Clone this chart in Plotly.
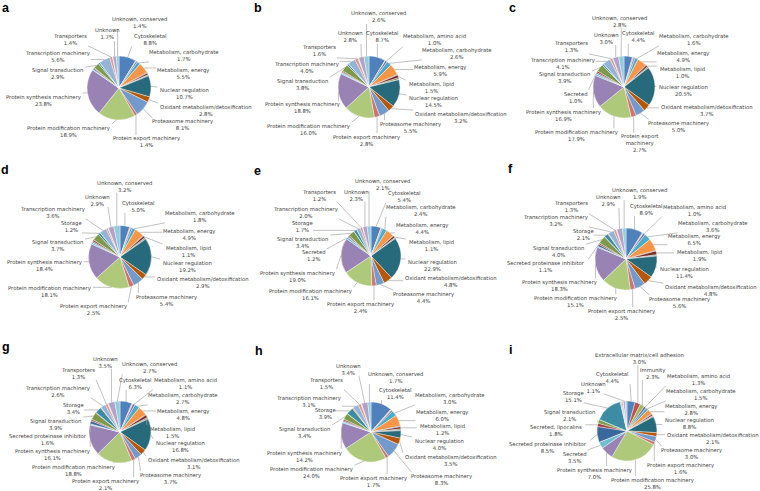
import math
import plotly.graph_objects as go

# ---------------- data ----------------
CATEGORIES = [
    "Cytoskeletal", "Extracellular matrix/cell adhesion", "Immunity",
    "Metabolism, amino acid", "Metabolism, carbohydrate", "Metabolism, energy",
    "Metabolism, intermediate", "Metabolism, lipid", "Metabolism, nucleotide",
    "Nuclear export", "Nuclear regulation", "Oxidant metabolism/detoxification",
    "Proteasome machinery", "Protein export machinery", "Protein modification machinery",
    "Protein synthesis machinery", "Secreted", "Secreted, mucins",
    "Secreted proteinase inhibitor", "Secreted, lipocalins", "Signal transduction",
    "Signaling, other", "Storage", "Transcription factor",
    "Transcription machinery", "Transporters", "Transposable element",
    "Unknown", "Unknown, conserved",
]

COLORS = [
    "#4F81BD", "#C0504D", "#9BBB59", "#8064A2", "#4BACC6", "#F79646",
    "#2C4D75", "#772C2A", "#5F7530", "#4D3B62", "#276A7C", "#B65708",
    "#729ACA", "#CD7371", "#AFC97A", "#9983B5", "#6FBDD1", "#F9AB6B",
    "#3A679C", "#A0403E", "#7D9A48", "#664E83", "#3C8DA3", "#D8802E",
    "#95B3D7", "#D99694", "#C3D69B", "#B3A2C7", "#93CDDD",
]

# percentages per panel, aligned with CATEGORIES
panel_a = [8.8, 0, 0.3, 0.7, 1.7, 5.5, 0.3, 0.9, 0.4, 0.2, 10.7, 2.8, 8.1, 1.4, 18.9, 23.8,
           0.5, 0, 0.6, 0.4, 2.9, 0, 0.8, 0, 5.6, 1.4, 0.2, 1.7, 1.4]
panel_b = [8.7, 0, 0.2, 1.0, 2.6, 5.9, 0.3, 1.5, 0.8, 0.2, 14.5, 3.2, 5.5, 2.8, 16.0, 18.8,
           0.7, 0, 0.5, 0.6, 3.8, 0, 0.9, 0, 4.0, 1.6, 0.5, 2.8, 2.6]
panel_c = [4.4, 0.4, 0.3, 0.8, 1.6, 4.9, 0.3, 1.0, 0.5, 0.2, 20.5, 3.7, 5.0, 2.7, 17.9, 16.9,
           1.0, 0, 0.7, 0.9, 3.9, 0, 0.9, 0, 4.1, 1.3, 0.3, 3.0, 2.8]
panel_d = [5.0, 0.3, 0.3, 0.8, 1.8, 4.9, 0.3, 1.1, 0.5, 0.3, 19.2, 2.9, 5.4, 2.5, 18.1, 18.4,
           0.9, 0, 0.6, 0.9, 3.7, 0, 1.2, 0, 3.6, 0.9, 0.3, 2.9, 3.2]
panel_e = [5.4, 0.2, 0.2, 0.6, 2.4, 4.4, 0.2, 1.1, 0.4, 0.2, 22.9, 4.8, 4.4, 2.4, 16.1, 19.0,
           1.2, 0, 0.5, 0.6, 3.4, 0, 1.7, 0, 2.0, 1.2, 0.3, 2.3, 2.1]
panel_f = [8.9, 0.3, 0.3, 1.0, 3.6, 6.5, 0.3, 1.9, 0.5, 0.2, 11.4, 4.8, 5.6, 2.5, 15.1, 18.3,
           0.6, 0, 1.1, 0.8, 4.0, 0.2, 2.1, 0.3, 3.2, 1.3, 0.4, 2.9, 1.9]
panel_g = [6.3, 0.3, 0.3, 1.1, 2.7, 4.8, 0.3, 1.5, 0.5, 0.3, 16.8, 3.1, 3.7, 2.1, 18.8, 16.1,
           0.6, 0, 1.6, 0.8, 3.9, 0.3, 3.4, 0.2, 2.6, 1.3, 0.4, 3.5, 2.7]
panel_h = [11.4, 0.3, 0.3, 0.8, 3.0, 6.0, 0.4, 1.2, 0.6, 0.3, 4.0, 3.5, 8.3, 1.7, 24.0, 14.2,
           0.7, 0, 0.6, 0.8, 3.4, 0, 3.9, 0.5, 3.1, 1.5, 0.4, 3.4, 1.7]
panel_i = [4.4, 3.0, 2.3, 1.3, 1.5, 2.8, 0.3, 0.8, 0.4, 0.3, 8.8, 2.1, 3.0, 1.6, 25.8, 7.0,
           3.5, 0, 8.5, 1.8, 2.1, 0, 15.1, 0, 0.6, 0.8, 0.2, 1.1, 0.9]

PANEL_LETTERS = ["a", "b", "c", "d", "e", "f", "g", "h", "i"]
PANEL_VALUES = [panel_a, panel_b, panel_c, panel_d, panel_e, panel_f, panel_g, panel_h, panel_i]
LABEL_MIN = 1.0  # slices below this share carry no data label

# ---------------- layout (pixels) ----------------
W, H = 760, 491
PIE_GEOM = {  # centre x, centre y, radius
    "a": (119, 88, 32), "b": (369, 87, 31), "c": (624, 87, 31),
    "d": (120, 257, 31.5), "e": (371, 256, 30), "f": (626, 259, 31),
    "g": (120, 432, 31), "h": (371, 432, 30), "i": (627, 431, 30),
}
LETTER_POS = {  # left x, top y of the letter box
    "a": (1, 0), "b": (253, 0), "c": (508, 0.5),
    "d": (0, 162), "e": (253, 162.5), "f": (507, 161),
    "g": (1, 339), "h": (254, 343), "i": (508, 341.5),
}
LABEL_POS = {
    "a": {"Unknown, conserved": (139, 22), "Unknown": (107, 34), "Transporters": (70, 39),
          "Cytoskeletal": (150, 39), "Metabolism, carbohydrate": (184, 55),
          "Transcription machinery": (57, 57), "Metabolism, energy": (183, 74),
          "Signal transduction": (57, 74), "Nuclear regulation": (184, 94),
          "Protein synthesis machinery": (43, 100), "Oxidant metabolism/detoxification": (206, 110),
          "Proteasome machinery": (182, 125), "Protein modification machinery": (68, 131),
          "Protein export machinery": (146, 142)},
    "b": {"Unknown, conserved": (378, 17), "Unknown": (350, 37), "Cytoskeletal": (383, 37),
          "Metabolism, amino acid": (435, 40), "Transporters": (319, 51),
          "Metabolism, carbohydrate": (457, 53), "Transcription machinery": (306, 68),
          "Metabolism, energy": (440, 70), "Signal transduction": (302, 84),
          "Metabolism, lipid": (431, 87), "Nuclear regulation": (433, 102),
          "Protein synthesis machinery": (302, 108), "Oxidant metabolism/detoxification": (461, 117),
          "Proteasome machinery": (411, 127), "Protein modification machinery": (308, 129),
          "Protein export machinery": (366, 140)},
    "c": {"Unknown, conserved": (619, 21), "Unknown": (606, 38), "Cytoskeletal": (638, 37),
          "Metabolism, carbohydrate": (694, 39), "Transporters": (571, 47),
          "Transcription machinery": (562, 63), "Metabolism, energy": (683, 56),
          "Signal transduction": (564, 78), "Metabolism, lipid": (682, 72),
          "Nuclear regulation": (683, 91), "Secreted": (576, 97),
          "Protein synthesis machinery": (563, 115), "Oxidant metabolism/detoxification": (707, 110),
          "Proteasome machinery": (678, 126), "Protein modification machinery": (576, 135),
          "Protein export machinery": (639, 143)},
    "d": {"Unknown, conserved": (124, 186), "Unknown": (97, 200), "Cytoskeletal": (138, 206),
          "Transcription machinery": (52, 212), "Metabolism, carbohydrate": (200, 216),
          "Storage": (71, 226), "Metabolism, energy": (189, 235), "Signal transduction": (57, 246),
          "Metabolism, lipid": (188, 251), "Protein synthesis machinery": (44, 265),
          "Nuclear regulation": (187, 266), "Oxidant metabolism/detoxification": (203, 282),
          "Protein modification machinery": (49, 291), "Proteasome machinery": (166, 300),
          "Protein export machinery": (93, 309)},
    "e": {"Unknown, conserved": (382, 184.5), "Transporters": (319, 195), "Unknown": (356, 195),
          "Cytoskeletal": (404, 196), "Transcription machinery": (305, 212),
          "Metabolism, carbohydrate": (421, 210), "Storage": (302, 226),
          "Metabolism, energy": (422, 228), "Signal transduction": (302, 242),
          "Metabolism, lipid": (431, 246), "Secreted": (314, 256), "Nuclear regulation": (432, 265),
          "Protein synthesis machinery": (297, 276), "Oxidant metabolism/detoxification": (451, 281),
          "Protein modification machinery": (310, 294), "Proteasome machinery": (423, 297),
          "Protein export machinery": (360, 307)},
    "f": {"Unknown, conserved": (639, 193), "Unknown": (608, 201), "Transporters": (571, 207),
          "Cytoskeletal": (646, 209), "Metabolism, amino acid": (694, 210),
          "Transcription machinery": (555, 220), "Metabolism, carbohydrate": (713, 226),
          "Storage": (583, 235), "Metabolism, energy": (694, 239), "Signal transduction": (558, 251),
          "Metabolism, lipid": (699, 256), "Secreted proteinase inhibitor": (546, 266),
          "Nuclear regulation": (684, 272), "Protein synthesis machinery": (559, 285),
          "Oxidant metabolism/detoxification": (711, 290), "Protein modification machinery": (575, 301),
          "Proteasome machinery": (679, 302), "Protein export machinery": (621, 314)},
    "g": {"Unknown": (105, 362), "Unknown, conserved": (149, 367), "Transporters": (78, 373),
          "Cytoskeletal": (135, 383), "Metabolism, amino acid": (185, 383),
          "Transcription machinery": (57, 391), "Metabolism, carbohydrate": (183, 398),
          "Storage": (73, 408), "Metabolism, energy": (183, 414), "Signal transduction": (55, 424),
          "Metabolism, lipid": (172, 432), "Secreted proteinase inhibitor": (48, 439),
          "Nuclear regulation": (180, 446), "Protein synthesis machinery": (52, 454),
          "Oxidant metabolism/detoxification": (194, 463), "Protein modification machinery": (73, 470),
          "Proteasome machinery": (170, 478), "Protein export machinery": (106, 484)},
    "h": {"Unknown": (348, 369), "Unknown, conserved": (396, 377), "Transporters": (326, 383),
          "Cytoskeletal": (396, 393), "Metabolism, carbohydrate": (450, 398),
          "Transcription machinery": (308, 401), "Storage": (325, 413),
          "Metabolism, energy": (442, 415), "Metabolism, lipid": (442, 429),
          "Signal transduction": (304, 432), "Nuclear regulation": (439, 444),
          "Protein synthesis machinery": (304, 456), "Oxidant metabolism/detoxification": (451, 460),
          "Protein modification machinery": (311, 472), "Proteasome machinery": (441, 479),
          "Protein export machinery": (373, 481)},
    "i": {"Extracellular matrix/cell adhesion": (639, 358), "Immunity": (652, 373),
          "Cytoskeletal": (612, 377), "Metabolism, amino acid": (698, 379), "Unknown": (593, 387),
          "Metabolism, carbohydrate": (701, 394), "Storage": (573, 396),
          "Metabolism, energy": (691, 409), "Signal transduction": (569, 415),
          "Nuclear regulation": (689, 423), "Secreted, lipocalins": (556, 430),
          "Oxidant metabolism/detoxification": (713, 438), "Secreted proteinase inhibitor": (548, 447),
          "Proteasome machinery": (691, 453), "Secreted": (575, 457),
          "Protein export machinery": (680, 468), "Protein synthesis machinery": (594, 473),
          "Protein modification machinery": (652, 483)},
}
LABEL_BREAKS = {("c", "Protein export machinery"): "Protein export<br>machinery"}

FONT = "DejaVu Sans"
FS = 5.3
CHAR_W = 2.85
TEXT_COLOR = "#404040"
LINE_COLOR = "#A6A6A6"


def px(x):
    return x / W


def py(y):
    return 1 - y / H


fig = go.Figure()
annotations = []
shapes = []

for letter, vals in zip(PANEL_LETTERS, PANEL_VALUES):
    cx, cy, r = PIE_GEOM[letter]
    fig.add_trace(go.Pie(
        values=vals, labels=CATEGORIES, sort=False, direction="clockwise", rotation=0,
        marker=dict(colors=COLORS, line=dict(color="white", width=0.4)),
        textinfo="none", showlegend=False, hoverinfo="label+percent",
        domain=dict(x=[px(cx - r), px(cx + r)], y=[py(cy + r), py(cy - r)]),
    ))
    total = float(sum(vals))
    cum = 0.0
    for cat, v in zip(CATEGORIES, vals):
        mid = (cum + v / 2) / total * 2 * math.pi
        cum += v
        if v < LABEL_MIN or cat not in LABEL_POS[letter]:
            continue
        lx, ly = LABEL_POS[letter][cat]
        name = LABEL_BREAKS.get((letter, cat), cat)
        lines = name.split("<br>") + [f"{v:.1f}%"]
        text = "<br>".join(lines)
        hw = max(len(s) for s in lines) * CHAR_W / 2 + 1
        hh = len(lines) * FS * 1.3 / 2
        sx = cx + r * math.sin(mid)
        sy = cy - r * math.cos(mid)
        ex = min(max(sx, lx - hw), lx + hw)
        ey = min(max(sy, ly - hh), ly + hh)
        shapes.append(dict(type="line", xref="paper", yref="paper",
                           x0=px(sx), y0=py(sy), x1=px(ex), y1=py(ey),
                           line=dict(color=LINE_COLOR, width=0.7)))
        annotations.append(dict(x=px(lx), y=py(ly), xref="paper", yref="paper",
                                text=text, showarrow=False, xanchor="center", yanchor="middle",
                                align="center", font=dict(family=FONT, size=FS, color=TEXT_COLOR)))
    lx, ly = LETTER_POS[letter]
    annotations.append(dict(x=px(lx), y=py(ly), xref="paper", yref="paper", text=f"<b>{letter}</b>",
                            showarrow=False, xanchor="left", yanchor="top", borderpad=0,
                            font=dict(family="Liberation Sans", size=12.5, color="black")))

fig.update_layout(
    width=W, height=H, margin=dict(l=0, r=0, t=0, b=0),
    paper_bgcolor="white", plot_bgcolor="white",
    annotations=annotations, shapes=shapes,
)
fig.write_html(
    "out.html",
    config={"displayModeBar": False},
    post_script="document.body.style.margin='0';document.body.style.padding='0';"
                "document.body.style.overflow='hidden';",
)
